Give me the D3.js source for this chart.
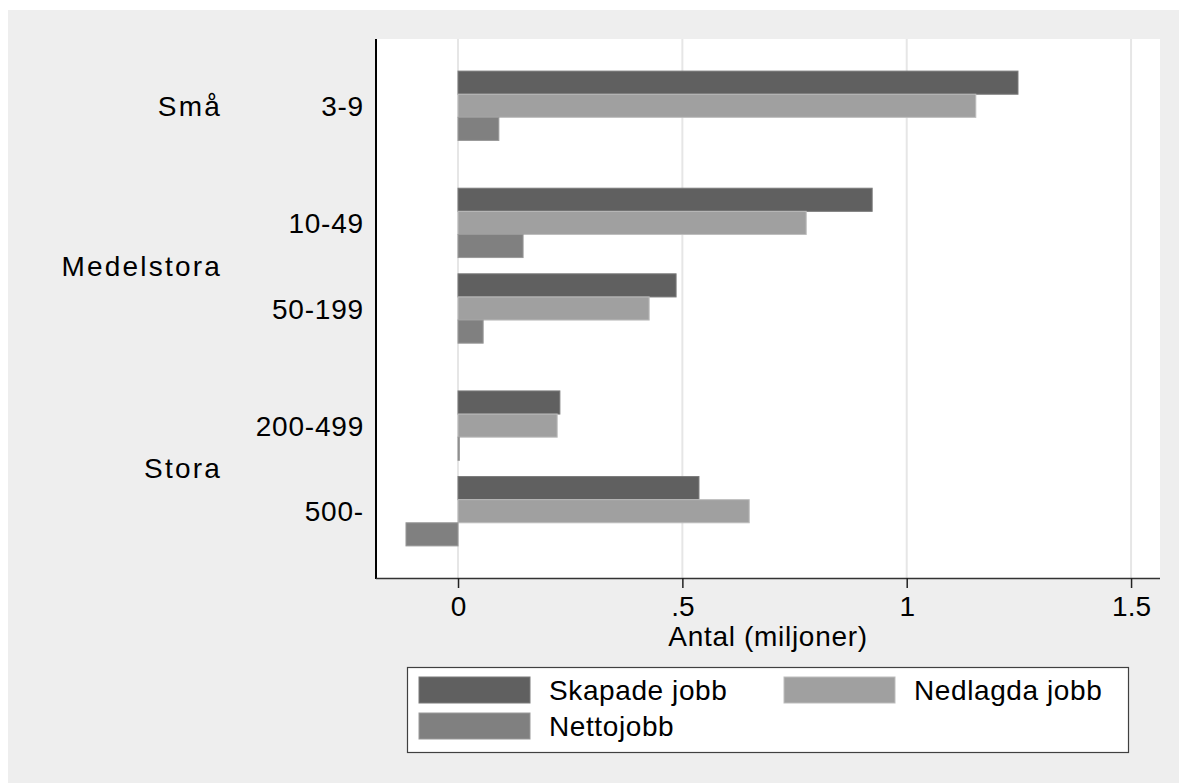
<!DOCTYPE html>
<html><head><meta charset="utf-8">
<script src="https://cdn.jsdelivr.net/npm/d3@7"></script>
<style>
html,body{margin:0;padding:0;background:#fff;}
svg{display:block;}
text{font-family:"Liberation Sans",Arial,sans-serif;fill:#000;}
</style></head>
<body>
<svg id="chart" width="1179" height="783"></svg>
<script>
const groups = ["Små", "Medelstora", "Stora"];
const categories = ["3-9", "10-49", "50-199", "200-499", "500-"];
const categoryGroup = [0, 1, 1, 2, 2];
const seriesNames = ["Skapade jobb", "Nedlagda jobb", "Nettojobb"];
const skapade = [1.248, 0.923, 0.486, 0.227, 0.537];
const nedlagda = [1.154, 0.776, 0.426, 0.221, 0.649];
const netto = [0.091, 0.145, 0.056, 0.003, -0.116];
const xTicks = [0, 0.5, 1, 1.5];
const xTickLabels = ["0", ".5", "1", "1.5"];
const axisTitle = "Antal (miljoner)";

const fills = ["#606060", "#a0a0a0", "#808080"];
const strokes = ["#7a7a7a", "#bdbdbd", "#999999"];
const series = [skapade, nedlagda, netto];

const svg = d3.select("#chart");
const W = 1179, H = 783;
const plot = {left: 376, right: 1160, top: 39, bottom: 578};
const fontSize = 28;

// outer background
svg.append("rect").attr("x", 0).attr("y", 0).attr("width", W).attr("height", H).attr("fill", "#fff");
svg.append("rect").attr("x", 8).attr("y", 10).attr("width", W - 8).attr("height", H - 10).attr("fill", "#eeeeee");
svg.append("rect").attr("x", plot.left).attr("y", plot.top)
  .attr("width", plot.right - plot.left).attr("height", plot.bottom - plot.top).attr("fill", "#fff");

const x = d3.scaleLinear().domain([-0.1828, 1.5645]).range([plot.left, plot.right]);

// category positions in units (extra gap between groups)
const groupGap = 0.368;
const pos = categories.map((c, i) => i + categoryGroup[i] * groupGap);
const pad = 0.78;
const y = d3.scaleLinear().domain([pos[0] - pad, pos[pos.length - 1] + pad]).range([plot.top, plot.bottom]);
const barU = 0.27;

// gridlines
svg.append("g").selectAll("line").data(xTicks).join("line")
  .attr("x1", d => x(d)).attr("x2", d => x(d))
  .attr("y1", plot.top).attr("y2", plot.bottom)
  .attr("stroke", "#e6e6e6").attr("stroke-width", 2);

// bars
series.forEach((vals, k) => {
  svg.append("g").selectAll("rect").data(vals).join("rect")
    .attr("x", d => x(Math.min(0, d)))
    .attr("width", d => Math.max(1, Math.abs(x(d) - x(0))))
    .attr("y", (d, i) => y(pos[i] + (k - 1.5) * barU))
    .attr("height", (d, i) => y(pos[i] + (k - 0.5) * barU) - y(pos[i] + (k - 1.5) * barU))
    .attr("fill", fills[k]).attr("stroke", strokes[k]).attr("stroke-width", 1);
});

// axes lines
svg.append("line").attr("x1", plot.left).attr("x2", plot.left).attr("y1", plot.top).attr("y2", plot.bottom + 1)
  .attr("stroke", "#000").attr("stroke-width", 2);
const xAxis = d3.axisBottom(x).tickValues(xTicks).tickFormat((d, i) => xTickLabels[i]).tickSize(10).tickPadding(8);
const gx = svg.append("g").attr("transform", `translate(0,${plot.bottom})`).call(xAxis);
gx.select(".domain").attr("d", `M${plot.left},0.5H${plot.right}`).attr("stroke", "#333").attr("stroke-width", 1.5);
gx.selectAll(".tick line").attr("stroke", "#222").attr("stroke-width", 1.5);
gx.selectAll(".tick text").attr("font-size", fontSize).attr("font-family", '"Liberation Sans",Arial,sans-serif').attr("fill", "#000");

svg.append("text").attr("x", (plot.left + plot.right) / 2).attr("y", 646)
  .attr("text-anchor", "middle").attr("font-size", fontSize).attr("letter-spacing", 0.7).text(axisTitle);

// category labels
svg.append("g").selectAll("text").data(categories).join("text")
  .attr("x", 364).attr("y", (d, i) => y(pos[i])).attr("dy", "0.36em")
  .attr("text-anchor", "end").attr("font-size", fontSize).attr("letter-spacing", 0.8).text(d => d);

// group labels
svg.append("g").selectAll("text").data(groups).join("text")
  .attr("x", 222)
  .attr("y", (g, gi) => {
    const ps = pos.filter((p, i) => categoryGroup[i] === gi);
    return y(d3.mean(ps));
  })
  .attr("dy", "0.36em").attr("text-anchor", "end").attr("font-size", fontSize).attr("letter-spacing", 2.2).text(d => d);

// legend
const lg = svg.append("g");
lg.append("rect").attr("x", 407.5).attr("y", 667.5).attr("width", 721).attr("height", 85)
  .attr("fill", "#fff").attr("stroke", "#404040").attr("stroke-width", 1.2);
const legendPos = [[419, 677], [784, 677], [419, 713]];
seriesNames.forEach((name, k) => {
  const [lx, ly] = legendPos[k];
  lg.append("rect").attr("x", lx).attr("y", ly).attr("width", 111).attr("height", 26)
    .attr("fill", fills[k]).attr("stroke", strokes[k]).attr("stroke-width", 1);
  lg.append("text").attr("x", lx + 130).attr("y", ly + 13).attr("dy", "0.36em")
    .attr("font-size", fontSize).attr("letter-spacing", 0.6).text(name);
});
</script>
</body></html>
